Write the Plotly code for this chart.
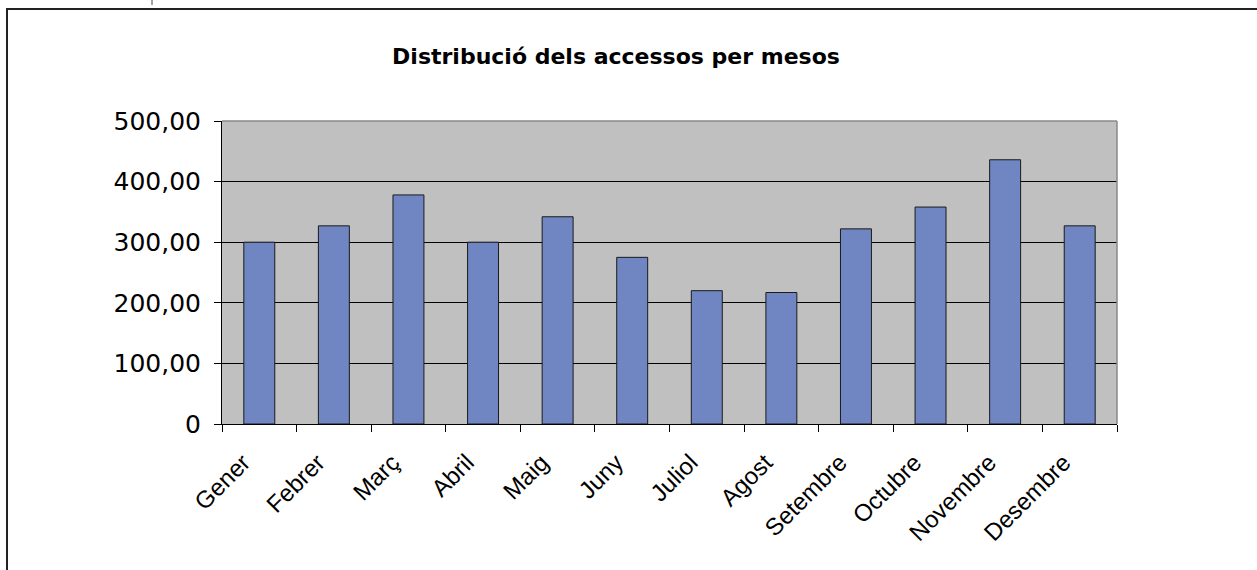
import plotly.graph_objects as go

months = ["Gener", "Febrer", "Març", "Abril", "Maig", "Juny", "Juliol",
          "Agost", "Setembre", "Octubre", "Novembre", "Desembre"]
accessos = [300, 327, 378, 300, 342, 275, 220, 217, 322, 358, 436, 327]
y_tickvals = [0, 100, 200, 300, 400, 500]
y_ticktext = ["0", "100,00", "200,00", "300,00", "400,00", "500,00"]
title_text = "Distribució dels accessos per mesos"

W, H = 1257, 570
X0, X1, Y0, Y1 = 222, 1117, 121, 424
L, R, T, B = X0, W - X1, Y0, H - Y1
pw, ph = X1 - X0, Y1 - Y0

def px(x):
    return (x - X0) / pw

def py(y):
    return (Y1 - y) / ph

fig = go.Figure()
fig.add_trace(go.Bar(
    x=months, y=accessos,
    marker=dict(color="#7086C2", line=dict(color="#1a1a1a", width=1)),
    hoverinfo="x+y",
))

shapes = [
    dict(type="line", xref="paper", yref="paper", x0=px(7), x1=px(7), y0=py(9), y1=py(575),
         line=dict(color="#222222", width=2)),
    dict(type="line", xref="paper", yref="paper", x0=px(6), x1=px(1262), y0=py(9), y1=py(9),
         line=dict(color="#222222", width=2)),
    dict(type="line", xref="paper", yref="paper", x0=px(152), x1=px(152), y0=py(-2), y1=py(5),
         line=dict(color="#444444", width=1)),
    dict(type="line", xref="paper", yref="paper", x0=0, x1=1, y0=1, y1=1,
         line=dict(color="#8a8a8a", width=1.5)),
    dict(type="line", xref="paper", yref="paper", x0=1, x1=1, y0=0, y1=1,
         line=dict(color="#8a8a8a", width=1.5)),
]

fig.update_layout(
    width=W, height=H,
    margin=dict(l=L, r=R, t=T, b=B),
    paper_bgcolor="white",
    plot_bgcolor="#C0C0C0",
    showlegend=False,
    bargap=0.585,
    title=dict(text="<b>" + title_text + "</b>", x=616 / W, xanchor="center",
               y=1 - 56 / H, yanchor="middle",
               font=dict(family="DejaVu Sans", size=22, color="black")),
    shapes=shapes,
    xaxis=dict(
        type="category",
        tickson="boundaries",
        ticks="outside", ticklen=7, tickcolor="black", tickwidth=1,
        showline=True, linecolor="black", linewidth=1,
        showgrid=False,
        tickangle=-45,
        ticklabelshift=-16,
        ticklabelstandoff=14,
        tickfont=dict(family="Liberation Sans", size=24, color="black"),
        range=[-0.5, 11.5],
    ),
    yaxis=dict(
        range=[0, 500],
        tickvals=y_tickvals, ticktext=y_ticktext,
        ticks="outside", ticklen=7, tickcolor="black", tickwidth=1,
        showline=True, linecolor="black", linewidth=1,
        showgrid=True, gridcolor="black", gridwidth=1,
        zeroline=False,
        ticklabelstandoff=8,
        tickfont=dict(family="DejaVu Sans", size=25, color="black"),
    ),
)

fig.write_html("out.html", config={"displayModeBar": False},
               post_script="document.body.style.margin='0';")
